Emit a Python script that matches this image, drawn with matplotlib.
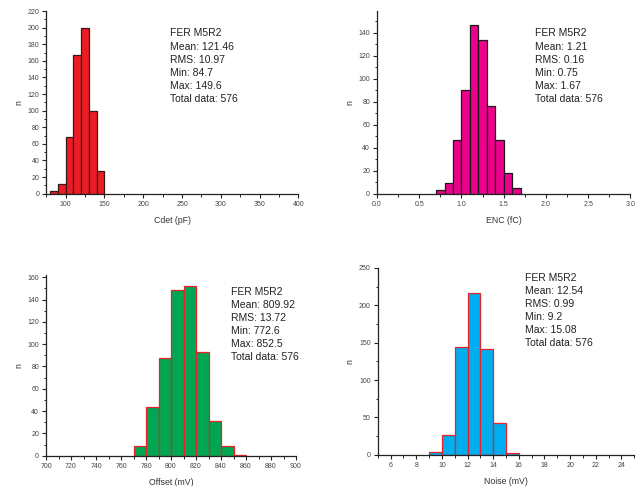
import matplotlib
matplotlib.use("Agg")
import matplotlib.pyplot as plt
from matplotlib.ticker import MultipleLocator, FormatStrFormatter

plt.rcParams['font.family'] = ['Liberation Sans', 'DejaVu Sans']

# ---- data ----
cdet_edges = [80, 90, 100, 110, 120, 130, 140]
cdet_counts = [3, 12, 68, 167, 200, 99, 27]

enc_edges = [0.7, 0.8, 0.9, 1.0, 1.1, 1.2, 1.3, 1.4, 1.5, 1.6]
enc_counts = [3, 9, 47, 90, 147, 134, 76, 47, 18, 5]

off_edges = [770, 780, 790, 800, 810, 820, 830, 840, 850]
off_counts = [9, 44, 88, 149, 152, 93, 31, 9, 1]

noise_edges = [9, 10, 11, 12, 13, 14, 15]
noise_counts = [3, 27, 144, 216, 142, 42, 2]

stats_texts = [
    "FER M5R2\nMean: 121.46\nRMS: 10.97\nMin: 84.7\nMax: 149.6\nTotal data: 576",
    "FER M5R2\nMean: 1.21\nRMS: 0.16\nMin: 0.75\nMax: 1.67\nTotal data: 576",
    "FER M5R2\nMean: 809.92\nRMS: 13.72\nMin: 772.6\nMax: 852.5\nTotal data: 576",
    "FER M5R2\nMean: 12.54\nRMS: 0.99\nMin: 9.2\nMax: 15.08\nTotal data: 576",
]
xlabels = ["Cdet (pF)", "ENC (fC)", "Offset (mV)", "Noise (mV)"]

W, H = 642, 486
fig = plt.figure(figsize=(W / 100, H / 100), dpi=100)

def px_axes(left, right, top, bottom):
    return fig.add_axes([left / W, (H - bottom) / H, (right - left) / W, (bottom - top) / H])

panels = [
    dict(rect=(46.3, 298.3, 11, 193.7), edges=cdet_edges, counts=cdet_counts, width=10,
         color="#ED1C24", ec="#3a1616", xlim=(75, 400), ylim=(0, 220),
         xmaj=50, xmin=25, ymaj=20, ymin=10, xfmt="%d", text_xy=(170, 28.5)),
    dict(rect=(377, 630.3, 11, 193.7), edges=enc_edges, counts=enc_counts, width=0.1,
         color="#EC008C", ec="#1a1a1a", xlim=(0, 3.0), ylim=(0, 159),
         xmaj=0.5, xmin=0.25, ymaj=20, ymin=10, xfmt="%.1f", text_xy=(535, 28.5)),
    dict(rect=(46, 296, 275, 455.7), edges=off_edges, counts=off_counts, width=10,
         color="#00A651", ec="#E8202A", xlim=(700, 900), ylim=(0, 162),
         xmaj=20, xmin=10, ymaj=20, ymin=10, xfmt="%d", text_xy=(231, 287)),
    dict(rect=(377.7, 634.3, 268, 454.7), edges=noise_edges, counts=noise_counts, width=1,
         color="#00AEEF", ec="#E8202A", xlim=(5, 25), ylim=(0, 250),
         xmaj=2, xmin=1, ymaj=50, ymin=25, xfmt="%d", text_xy=(525, 273)),
]

for i, p in enumerate(panels):
    ax = px_axes(*p["rect"])
    ax.bar(p["edges"], p["counts"], width=p["width"], align="edge",
           color=p["color"], edgecolor=p["ec"], linewidth=0.9, zorder=2)
    ax.set_xlim(*p["xlim"])
    ax.set_ylim(*p["ylim"])
    for s in ["top", "right"]:
        ax.spines[s].set_visible(False)
    for s in ["left", "bottom"]:
        ax.spines[s].set_linewidth(0.9)
        ax.spines[s].set_color("#222222")
        ax.spines[s].set_zorder(3)
    ax.xaxis.set_major_locator(MultipleLocator(p["xmaj"]))
    ax.xaxis.set_minor_locator(MultipleLocator(p["xmin"]))
    ax.yaxis.set_major_locator(MultipleLocator(p["ymaj"]))
    ax.yaxis.set_minor_locator(MultipleLocator(p["ymin"]))
    ax.xaxis.set_major_formatter(FormatStrFormatter(p["xfmt"]))
    ax.tick_params(which="major", direction="out", length=3, width=0.8,
                   labelsize=5, labelcolor="#444444", color="#222222", pad=2)
    ax.tick_params(which="minor", direction="out", length=1.8, width=0.7, color="#222222")
    ax.set_xlabel(xlabels[i], fontsize=6.3, color="#333333", labelpad=6)
    ax.set_ylabel("n", fontsize=6.3, color="#333333", labelpad=3)
    tx, ty = p["text_xy"]
    fig.text(tx / W, (H - ty) / H, stats_texts[i], fontsize=7.5, color="#222222",
             va="top", ha="left", linespacing=1.38)
fig.savefig("out.png", dpi=100)
